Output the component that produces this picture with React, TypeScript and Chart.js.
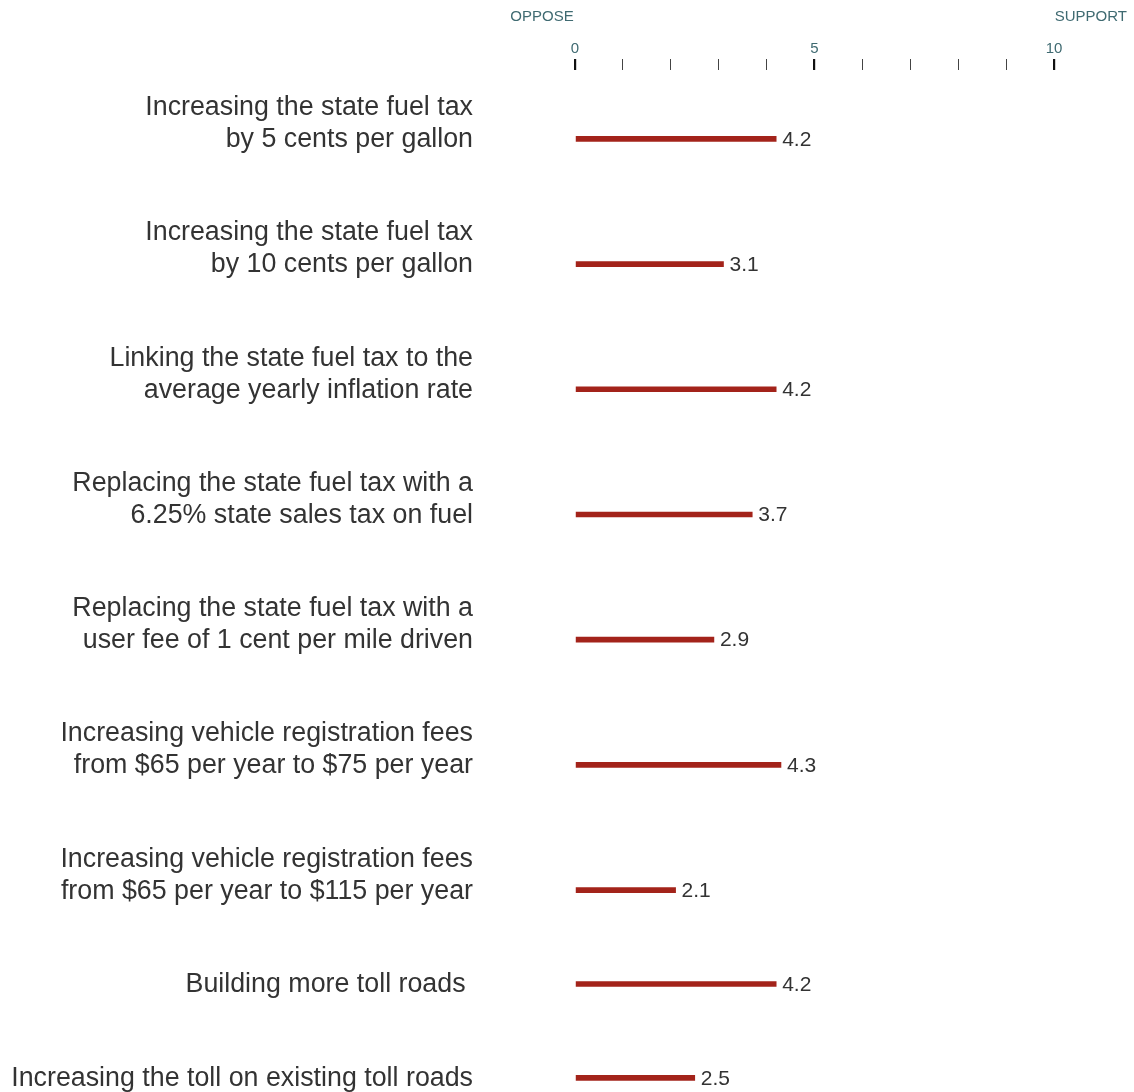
import React, { useEffect, useRef } from "react";
import { Chart, registerables } from "chart.js";

Chart.register(...registerables);

// ---- data ----
const categories: string[][] = [
  ["Increasing the state fuel tax", "by 5 cents per gallon"],
  ["Increasing the state fuel tax", "by 10 cents per gallon"],
  ["Linking the state fuel tax to the", "average yearly inflation rate"],
  ["Replacing the state fuel tax with a", "6.25% state sales tax on fuel"],
  ["Replacing the state fuel tax with a", "user fee of 1 cent per mile driven"],
  ["Increasing vehicle registration fees", "from $65 per year to $75 per year"],
  ["Increasing vehicle registration fees", "from $65 per year to $115 per year"],
  ["Building more toll roads "],
  ["Increasing the toll on existing toll roads"],
];
const values: number[] = [4.2, 3.1, 4.2, 3.7, 2.9, 4.3, 2.1, 4.2, 2.5];
const tickLabels: Record<number, string> = { 0: "0", 5: "5", 10: "10" };
const scaleEnds: string[] = ["OPPOSE", "SUPPORT"];

// ---- layout / style ----
const W = 1134;
const H = 1092;
const FONT = "'Liberation Sans', Arial, Helvetica, sans-serif";
const BAR_COLOR = "#a3231a";
const TEXT_COLOR = "#333333";
const AXIS_TEXT = "#3f6a71";
const ROW_GAP = 2; // row gap in "line" units
const LABEL_RIGHT = 473;
const LINE_H = 32;

// row positions on the (linear) index axis, derived from label line counts
const positions: number[] = (() => {
  let acc = 0;
  return categories.map((c) => {
    acc += ROW_GAP + c.length;
    return acc;
  });
})();

const labelsPlugin = {
  id: "customLabels",
  afterDraw(chart: any) {
    const ctx = chart.ctx as CanvasRenderingContext2D;
    const xs = chart.scales.x;
    const ys = chart.scales.y;
    ctx.save();
    // category labels
    ctx.fillStyle = TEXT_COLOR;
    ctx.font = `26.8px ${FONT}`;
    ctx.textAlign = "right";
    ctx.textBaseline = "middle";
    categories.forEach((lines, i) => {
      const y = ys.getPixelForValue(positions[i]) + 1;
      lines.forEach((line, k) => {
        const ly = y - (lines.length - 1 - k) * LINE_H;
        ctx.fillText(line, LABEL_RIGHT, ly);
      });
    });
    // value labels
    ctx.font = `21px ${FONT}`;
    ctx.textAlign = "left";
    values.forEach((v, i) => {
      const x = xs.getPixelForValue(v) + 6;
      const y = ys.getPixelForValue(positions[i]) + 1;
      ctx.fillText(v.toFixed(1), x, y);
    });
    // scale end labels
    ctx.fillStyle = AXIS_TEXT;
    ctx.font = `15px ${FONT}`;
    ctx.textAlign = "center";
    ctx.fillText(scaleEnds[0], xs.getPixelForValue(xs.min) - 33, 17);
    ctx.textAlign = "right";
    ctx.fillText(scaleEnds[1], W - 7, 17);
    ctx.restore();
  },
};

export default function App() {
  const ref = useRef<HTMLCanvasElement | null>(null);
  useEffect(() => {
    document.body.style.margin = "0";
    const canvas = ref.current!;
    const chart = new Chart(canvas, {
      type: "bar",
      data: {
        datasets: [
          {
            data: values.map((v, i) => ({ x: v, y: positions[i] })) as any,
            backgroundColor: BAR_COLOR,
            borderWidth: 0,
            barThickness: 5,
          },
        ],
      },
      options: {
        indexAxis: "y",
        animation: false,
        responsive: false,
        devicePixelRatio: 1,
        layout: { padding: { left: 575, right: 80, top: 39, bottom: 0 } },
        plugins: { legend: { display: false }, tooltip: { enabled: false } },
        scales: {
          x: {
            type: "linear",
            position: "top",
            min: 0,
            max: 10,
            ticks: {
              stepSize: 1,
              autoSkip: false,
              maxRotation: 0,
              padding: 1,
              color: AXIS_TEXT,
              font: { family: FONT, size: 15 },
              callback: (v: any) => tickLabels[v as number] ?? "",
            },
            grid: {
              drawOnChartArea: false,
              drawTicks: true,
              tickLength: 11,
              color: (c: any) => (c.tick && c.tick.value % 5 === 0 ? "#111" : "#444"),
              lineWidth: (c: any) => (c.tick && c.tick.value % 5 === 0 ? 2.2 : 1),
            },
            border: { display: false },
          },
          y: {
            type: "linear",
            display: false,
            reverse: true,
            offset: false,
            min: 1.8,
            max: 34.45,
          },
        },
      },
      plugins: [labelsPlugin],
    });
    return () => chart.destroy();
  }, []);
  return (
    <div style={{ width: W, height: H, background: "#fff" }}>
      <canvas ref={ref} width={W} height={H} style={{ width: W, height: H, display: "block" }} />
    </div>
  );
}
